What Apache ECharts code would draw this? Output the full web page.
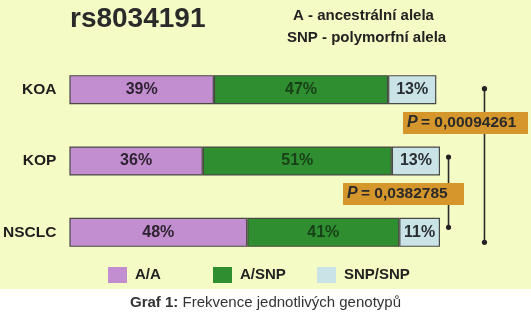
<!DOCTYPE html>
<html><head><meta charset="utf-8">
<script src="https://cdn.jsdelivr.net/npm/echarts@6/dist/echarts.min.js"></script>
<style>html,body{margin:0;padding:0;background:#fff}#c{width:531px;height:318px}</style>
</head><body><div id="c"></div>
<script>
const categories = ['KOA', 'KOP', 'NSCLC'];
const seriesNames = ['A/A', 'A/SNP', 'SNP/SNP'];
const valuesAA = [39, 36, 48];
const valuesASNP = [47, 51, 41];
const valuesSNPSNP = [13, 13, 11];
const titleText = 'rs8034191';
const noteLines = ['A - ancestrální alela', 'SNP - polymorfní alela'];
const pLabels = ['0,00094261', '0,0382785'];
const caption = ['Graf 1:', ' Frekvence jednotlivých genotypů'];

const colors = ['#c28ed0', '#2f8f30', '#c9e3e6'];
const labelColors = ['#2e2330', '#183f18', '#2a2f33'];
const FONT = 'Liberation Sans';

const chart = echarts.init(document.getElementById('c'));
const allValues = [valuesAA, valuesASNP, valuesSNPSNP];

const series = seriesNames.map((n, i) => ({
  name: n, type: 'bar', stack: 'tot', barWidth: 29,
  data: allValues[i],
  itemStyle: { color: colors[i], borderColor: '#4a4a45', borderWidth: 1.2 },
  label: { show: true, position: 'inside', formatter: '{c}%', fontFamily: FONT,
           fontWeight: 'bold', fontSize: 16, color: labelColors[i] },
  emphasis: { disabled: true }
}));

const legendPos = [103, 208, 312];
const legends = seriesNames.map((n, i) => ({
  data: [n], left: legendPos[i], top: 262, itemWidth: 19, itemHeight: 16, itemGap: 10,
  icon: 'rect', itemStyle: { borderWidth: 0 },
  textStyle: { fontFamily: FONT, fontWeight: 'bold', fontSize: 15, color: '#222', padding: [3,0,0,3] },
  selectedMode: false
}));

chart.setOption({
  animation: false,
  backgroundColor: '#ffffff',
  grid: { left: 69, right: 91, top: 54, bottom: 50 },
  xAxis: { type: 'value', min: 0, max: 100, show: false },
  yAxis: { type: 'category', data: categories, inverse: true,
    axisLine: { show: false }, axisTick: { show: false },
    axisLabel: { fontFamily: FONT, fontWeight: 'bold', fontSize: 15.5, color: '#1e1e1e', margin: 13 } },
  legend: legends,
  series: series
});

function T(x, y, text, size, weight) {
  return { type: 'text', x: x, y: y, z: 12,
    style: { text: text, fontFamily: FONT, fontSize: size, fontWeight: weight, fill: '#222' } };
}

const g = [
  { type: 'rect', z: -10, silent: true, shape: { x: 0, y: 0, width: 531, height: 289 }, style: { fill: '#f5fbc4' } },
  T(70, 5, titleText, 28, 'bold'),
  T(293, 8, noteLines[0], 15, 'bold'),
  T(287, 30, noteLines[1], 15, 'bold'),
  { type: 'text', left: 'center', top: 295, z: 12, style: {
      text: '{b|' + caption[0] + '}{r|' + caption[1] + '}',
      rich: { b: { fontFamily: FONT, fontSize: 15, fontWeight: 'bold', fill: '#333' },
              r: { fontFamily: FONT, fontSize: 15, fill: '#333' } } } }
];
g[1].style.fill = '#2a2a2a';

function px(v, cat) { return chart.convertToPixel({ gridIndex: 0 }, [v, cat]); }
const brackets = [
  { x: 112, from: 0, to: 2, dy1: -1, dy2: 10, boxX: 403, boxW: 125, boxY: 112, text: pLabels[0] },
  { x: 102.3, from: 1, to: 2, dy1: -4, dy2: -5, boxX: 343, boxW: 121, boxY: 183, text: pLabels[1] }
];
brackets.forEach((b) => {
  const p1 = px(b.x, b.from), p2 = px(b.x, b.to);
  const y1 = p1[1] + b.dy1, y2 = p2[1] + b.dy2, x = p1[0];
  g.push({ type: 'line', z: 9, shape: { x1: x, y1: y1, x2: x, y2: y2 }, style: { stroke: '#2b2b2b', lineWidth: 1.6 } });
  g.push({ type: 'circle', z: 9, shape: { cx: x, cy: y1, r: 2.6 }, style: { fill: '#222' } });
  g.push({ type: 'circle', z: 9, shape: { cx: x, cy: y2, r: 2.6 }, style: { fill: '#222' } });
  g.push({ type: 'rect', z: 10, shape: { x: b.boxX, y: b.boxY, width: b.boxW, height: 22 }, style: { fill: '#d5962c' } });
  g.push({ type: 'text', z: 12, x: b.boxX + 4, y: b.boxY + 3, style: {
    text: '{i|P} {n|= ' + b.text + '}',
    rich: { i: { fontFamily: FONT, fontStyle: 'italic', fontWeight: 'bold', fontSize: 16, fill: '#2a2a2a' },
            n: { fontFamily: FONT, fontWeight: 'bold', fontSize: 15.5, fill: '#2a2a2a' } } } });
});
chart.setOption({ graphic: g });
</script></body></html>
